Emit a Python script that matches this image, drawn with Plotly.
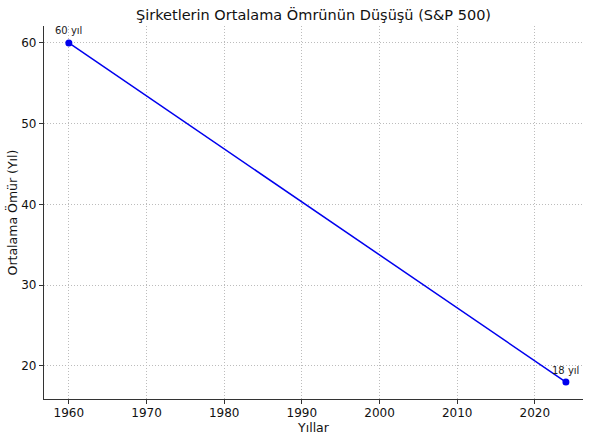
import plotly.graph_objects as go

years = [1960, 2024]
lifespan = [60, 18]
labels = ["60 yıl", "18 yıl"]
xticks = [1960, 1970, 1980, 1990, 2000, 2010, 2020]
yticks = [20, 30, 40, 50, 60]

fig = go.Figure()
fig.add_trace(go.Scatter(
    x=years, y=lifespan, mode="lines+markers",
    line=dict(color="#0000ee", width=1.5),
    marker=dict(color="#0000ee", size=7),
    showlegend=False, cliponaxis=False,
))
for xv, yv, t in zip(years, lifespan, labels):
    fig.add_annotation(x=xv, y=yv, text=t, showarrow=False, yshift=12,
                       font=dict(size=10, color="#222", family="DejaVu Sans"))

axis_common = dict(
    showgrid=True, gridcolor="#bcbcbc", griddash="1px,2px", gridwidth=1,
    showline=True, linecolor="#333", linewidth=1.3,
    ticks="outside", ticklen=4, tickcolor="#333",
    zeroline=False, mirror=False, automargin=False,
    tickfont=dict(size=12, color="#111", family="DejaVu Sans"),
)
fig.update_layout(
    width=590, height=436,
    margin=dict(l=44, r=7, t=26, b=37),
    paper_bgcolor="white", plot_bgcolor="white",
    font=dict(family="DejaVu Sans", color="#111"),
    title=dict(text="Şirketlerin Ortalama Ömrünün Düşüşü (S&P 500)",
               x=0.5, xanchor="center", xref="paper",
               y=1 - 15 / 436, yanchor="middle", yref="container",
               font=dict(size=14.5, color="#111")),
    xaxis=dict(range=[1956.8, 2026.2], tickvals=xticks, ticklabelstandoff=-2,
               title=dict(text="Yıllar", font=dict(size=12.5), standoff=0), **axis_common),
    yaxis=dict(range=[15.9, 62.1], tickvals=yticks,
               title=dict(text="Ortalama Ömür (Yıl)", font=dict(size=12.5), standoff=0), **axis_common),
)
fig.write_html("out.html", config={"displayModeBar": False},
               post_script="document.body.style.margin='0';document.body.style.overflow='hidden';")
